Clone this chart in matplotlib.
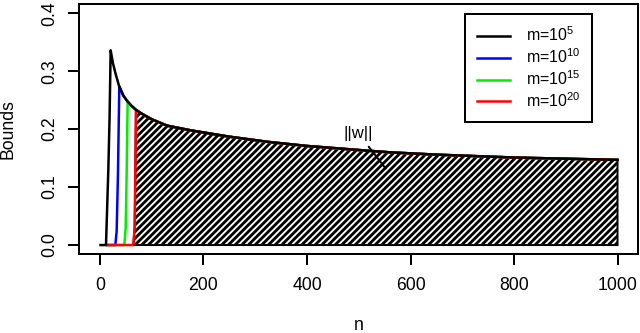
import numpy as np
import matplotlib
matplotlib.use("Agg")
import matplotlib.pyplot as plt

# upper bound curve ||w|| shared by all m once they have risen
env_n = [20.6, 25, 30, 37, 45, 53, 60, 70, 80, 100, 130, 175, 250, 325, 400,
         500, 560, 650, 800, 900, 1000]
env_v = [0.336, 0.314, 0.296, 0.274, 0.258, 0.248, 0.241, 0.233, 0.227, 0.217,
         0.206, 0.198, 0.187, 0.178, 0.171, 0.164, 0.160, 0.156, 0.151, 0.149,
         0.147]

# zero part + steep rise for each m
black_n = [1, 11.6, 14, 16.1, 18.5, 20.6]
black_v = [0, 0, 0.07, 0.13, 0.22, 0.336]
blue_n = [15, 29.6, 32.2, 34.7, 37.3]
blue_v = [0, 0, 0.024, 0.122, 0.274]
green_n = [15, 47, 49.6, 51.5, 53.4]
green_v = [0, 0, 0.030, 0.122, 0.248]
red_n = [14, 64.4, 67, 68.2, 69.5]
red_v = [0, 0, 0.030, 0.122, 0.233]

labels = [r"m=$\mathregular{10^{5}}$", r"m=$\mathregular{10^{10}}$",
          r"m=$\mathregular{10^{15}}$", r"m=$\mathregular{10^{20}}$"]
colors = ["black", "blue", "#00ee00", "red"]

xticks = [0, 200, 400, 600, 800, 1000]
yticks = [0.0, 0.1, 0.2, 0.3, 0.4]
note_xy = (552, 0.132)
note_text_xy = (499, 0.193)


def full_curve(n_rise, v_rise):
    n = list(n_rise)
    v = list(v_rise)
    for a, b in zip(env_n, env_v):
        if a > n_rise[-1]:
            n.append(a)
            v.append(b)
    return np.array(n), np.array(v)


plt.rcParams["font.family"] = ["Liberation Sans", "DejaVu Sans"]
plt.rcParams["hatch.linewidth"] = 1.7

dpi = 120
fig = plt.figure(figsize=(640 / dpi, 333 / dpi), dpi=dpi)
ax = fig.add_axes([0.1239, 0.2363, 0.9972 - 0.1239, 0.988 - 0.2363])

# hatched area under the largest m
rn, rv = full_curve(red_n[1:], red_v[1:])
poly_n = np.concatenate([rn, [rn[-1], rn[0]]])
poly_v = np.concatenate([rv, [0, 0]])
ax.fill(poly_n, poly_v, facecolor="white", edgecolor="black", hatch="//////",
        linewidth=1.2, zorder=1)

series = [(black_n, black_v), (blue_n, blue_v), (green_n, green_v), (red_n, red_v)]
handles = []
for (n_r, v_r), c, lab in zip(series, colors, labels):
    n, v = full_curve(n_r, v_r)
    z = 4 if c == "black" else 3
    h, = ax.plot(n, v, color=c, lw=1.5, label=lab, zorder=z)
    handles.append(h)

ax.annotate("||w||", xy=note_xy, xytext=note_text_xy, ha="center", va="center",
            fontsize=10,
            arrowprops=dict(arrowstyle="-", color="black", lw=1.2,
                            shrinkA=2, shrinkB=0))

ax.set_xlim(-40, 1040)
ax.set_ylim(-0.016, 0.416)
ax.set_xticks(xticks)
ax.set_xticklabels([str(t) for t in xticks])
ax.set_yticks(yticks)
ax.set_yticklabels(["%.1f" % t for t in yticks], rotation=90, va="center")
ax.tick_params(axis="both", length=6.6, width=1.2, labelsize=10.6)
ax.tick_params(axis="x", pad=7)
ax.tick_params(axis="y", pad=6)
for s in ax.spines.values():
    s.set_linewidth(1.2)

ax.set_xlabel("n", fontsize=10.6, va="center")
ax.xaxis.set_label_coords(0.5, -0.285)
ax.set_ylabel("Bounds", fontsize=10.6, va="center")
ax.yaxis.set_label_coords(-0.127, 0.5)

leg = ax.legend(handles=handles, loc="upper right",
                bbox_to_anchor=(0.917, 0.961), fontsize=9.5, frameon=True,
                fancybox=False, framealpha=1, edgecolor="black",
                handlelength=2.1, handletextpad=1.0, labelspacing=0.2,
                borderpad=0.75, borderaxespad=0)
leg.get_frame().set_linewidth(1.2)

fig.savefig("out.png", dpi=dpi)
